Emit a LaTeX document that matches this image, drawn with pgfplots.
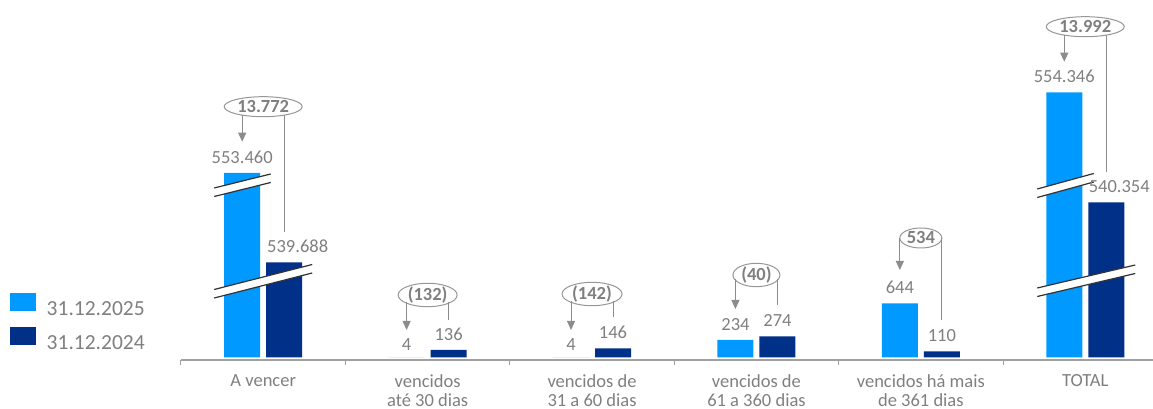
\documentclass[border=0pt]{standalone}
\usepackage{fontspec}
\setmainfont{Carlito}
\usepackage{pgfplots}
\pgfplotsset{compat=1.18}
\usepackage{pgfplotstable}
\usetikzlibrary{shapes.geometric,arrows.meta}

\definecolor{lb}{RGB}{0,153,255}
\definecolor{db}{RGB}{0,48,135}
\definecolor{txtg}{RGB}{127,127,127}
\definecolor{ellc}{RGB}{150,150,150}
\definecolor{linec}{RGB}{140,140,140}
\definecolor{axc}{RGB}{160,160,160}
\definecolor{brkc}{RGB}{50,50,50}

\newcommand{\lblfont}{\fontsize{18.5}{20}\selectfont}
\newcommand{\catfont}{\fontsize{18.5}{19.5}\selectfont}
\newcommand{\callfont}{\fontsize{18.5}{20}\selectfont\bfseries}

% values: y = drawn height (broken axis), lbl = value shown
\pgfplotstableread{
x y lbl dx dy
0 184.5 553.460 0 9.3
1 0 4 0 6.3
2 0 4 0 6.3
3 17.5 234 0 9.3
4 54 644 0 9.3
5 265.2 554.346 0 9.3
}\tnew
\pgfplotstableread{
x y lbl dx dy
0 95 539.688 13.5 9.3
1 7.5 136 0 9.3
2 9 146 0 9.3
3 21 274 0 9.3
4 6 110 0 9.3
5 155 540.354 13 9.3
}\told

% break: #1 category, #2 x left, #3 x right, #4 y left (upper line), #5 y right (upper line)
\newcommand{\brk}[5]{%
  \begin{scope}[shift={(axis cs:#1,0)}]
    \fill[white] (#2pt,#4pt) -- (#3pt,#5pt) -- (#3pt,#5pt-8.5pt) -- (#2pt,#4pt-8.5pt) -- cycle;
    \draw[brkc, line width=1.2pt] (#2pt,#4pt) -- (#3pt,#5pt) (#2pt,#4pt-8.5pt) -- (#3pt,#5pt-8.5pt);
  \end{scope}}
% callout: #1 category, #2 text, #3 ellipse y, #4 ellipse width, #5 start y of lines, #6 arrow tip y, #7 right line end y
\newcommand{\callout}[7]{%
  \begin{scope}[shift={(axis cs:#1,0)}]
    \node[draw=ellc, line width=1pt, ellipse, minimum width=#4pt, minimum height=20pt, inner sep=0pt, text=txtg, font=\callfont] at (0pt,#3pt) {#2};
    \draw[linec, line width=1pt, -{Triangle[length=9pt,width=8pt]}] (-21pt,#5pt) -- (-21pt,#6pt);
    \draw[linec, line width=1pt] (21pt,#5pt) -- (21pt,#7pt);
  \end{scope}}

\def\lblx{0}\def\lbly{0}
\pgfplotsset{
  barlbl/.style={
    nodes near coords, point meta=explicit symbolic,
    visualization depends on={\thisrow{dx} \as \lblx},
    visualization depends on={\thisrow{dy} \as \lbly},
    nodes near coords style={anchor=south, inner sep=0pt, font=\lblfont, text=txtg, xshift=\lblx pt, yshift=\lbly pt},
  }
}

\begin{document}
\begin{tikzpicture}
\begin{axis}[
  name=ax,
  at={(0pt,0pt)}, anchor=south west,
  scale only axis, width=972pt, height=360pt,
  xmin=-0.5, xmax=5.412, ymin=-2.5, ymax=357.5,
  enlargelimits=false,
  clip=false,
  axis x line=bottom, axis y line=none,
  x axis line style={draw=axc, line width=1.2pt, -},
  xtick={-0.5,0.5,1.5,2.5,3.5,4.5},
  xticklabels={A vencer, {vencidos\\até 30 dias}, {vencidos de\\31 a 60 dias}, {vencidos de\\61 a 360 dias}, {vencidos há mais\\de 361 dias}, TOTAL},
  xticklabel style={xshift=82.2pt, yshift=-9pt, align=center, anchor=north, inner sep=0pt, font=\catfont, text=txtg},
  tick align=outside, major tick length=5pt,
  xtick style={draw=axc, line width=1pt},
  ybar, bar width=36pt,
  legend style={draw=none, fill=none, at={(axis description cs:-0.1759,0.1055)}, anchor=west, inner sep=0pt,
    font=\fontsize{21.5}{22}\selectfont, text=txtg, row sep=10pt, nodes={inner sep=0pt},
    /tikz/every odd column/.append style={column sep=10.5pt}},
  legend cell align=left,
  legend image code/.code={\fill[#1] (0pt,-2pt) rectangle (26pt,16pt);},
]
\addplot[fill=lb, draw=none, bar shift=-21pt, barlbl] table[x=x, y=y, meta=lbl] {\tnew};
\addplot[fill=db, draw=none, bar shift=21pt, barlbl] table[x=x, y=y, meta=lbl] {\told};
\legend{31.12.2025, 31.12.2024}

\brk{0}{-49}{7.5}{169.5}{183.5}
\brk{0}{-49}{49}{68}{93}
\brk{5}{-48}{8.5}{168.5}{184}
\brk{5}{-48}{50}{69.5}{92.5}

\callout{0}{13.772}{250.8}{78}{242.4}{215.8}{125.8}
\callout{1}{(132)}{62.5}{59}{55.5}{27.5}{37.5}
\callout{2}{(142)}{63.5}{60}{56.5}{27.5}{40.8}
\callout{3}{(40)}{82.5}{47}{78}{48.5}{52.5}
\callout{4}{534}{119.5}{42}{119.5}{87.5}{37.5}
\callout{5}{13.992}{330.8}{78}{322.4}{295.8}{185.8}
\end{axis}
\pgfresetboundingbox
\useasboundingbox ([xshift=-181pt,yshift=-49pt]ax.south west) rectangle (ax.north east);
\end{tikzpicture}
\end{document}
